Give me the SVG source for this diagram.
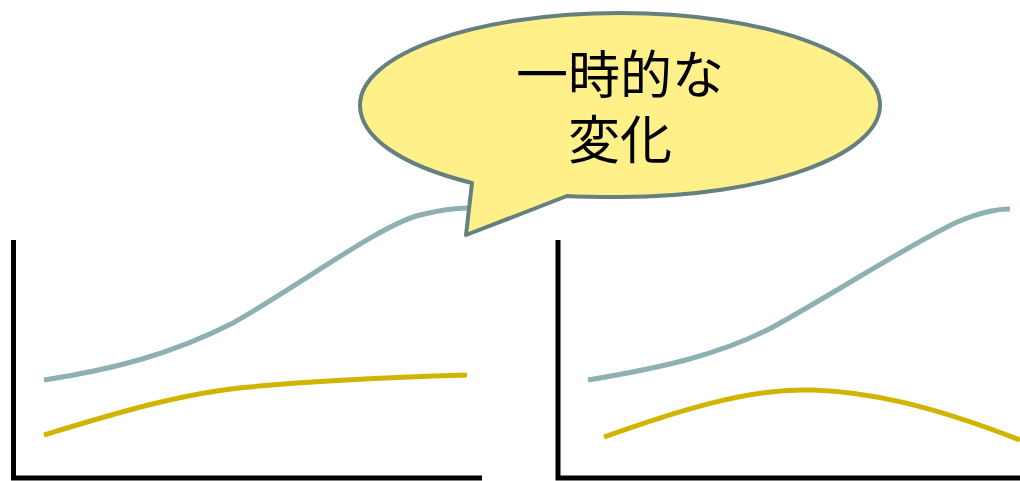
<svg xmlns="http://www.w3.org/2000/svg" width="1020" height="481" viewBox="0 0 1020 481">
<style>
.axis{fill:none;stroke:#000;stroke-width:5}
.teal{fill:none;stroke:#8fb0b0;stroke-width:5}
.gold{fill:none;stroke:#d0b400;stroke-width:5}
.bubble{fill:#fff08a;stroke:#65807f;stroke-width:4;stroke-linejoin:round}
.lbl{font-family:"Liberation Sans","Noto Sans CJK JP",sans-serif;font-size:52px;fill:#000;text-anchor:middle}
</style>
<rect width="1020" height="481" fill="#fff"/>
<g id="chart-left">
<path class="axis" d="M13.5,240 V478 H482"/>
<path class="teal" d="M44,380 C110,370 170,355 233,323 C300,285 380,225 420,215 C440,210 455,208 468,208"/>
<path class="gold" d="M44,435 C110,415 180,393 250,387 C320,380 400,377 467,375"/>
</g>
<g id="chart-right">
<path class="axis" d="M558,240 V478 H1020"/>
<path class="teal" d="M588,380 C660,368 720,355 773,327 C840,290 900,250 955,223 C980,212 995,209 1010,209"/>
<path class="gold" d="M604,437 C680,410 750,388 813,390 C870,392 930,405 1020,440"/>
</g>
<g id="bubble">
<path class="bubble" d="M472,183 C400,165 360,137 360,105 C360,54 476,13 620,13 C764,13 880,54 880,105 C880,156 764,197 620,197 C600,197 584,197 567,196 L466,235 Z"/>
<text class="lbl" x="620" y="94">一時的な</text>
<text class="lbl" x="620" y="159">変化</text>
</g>
</svg>
